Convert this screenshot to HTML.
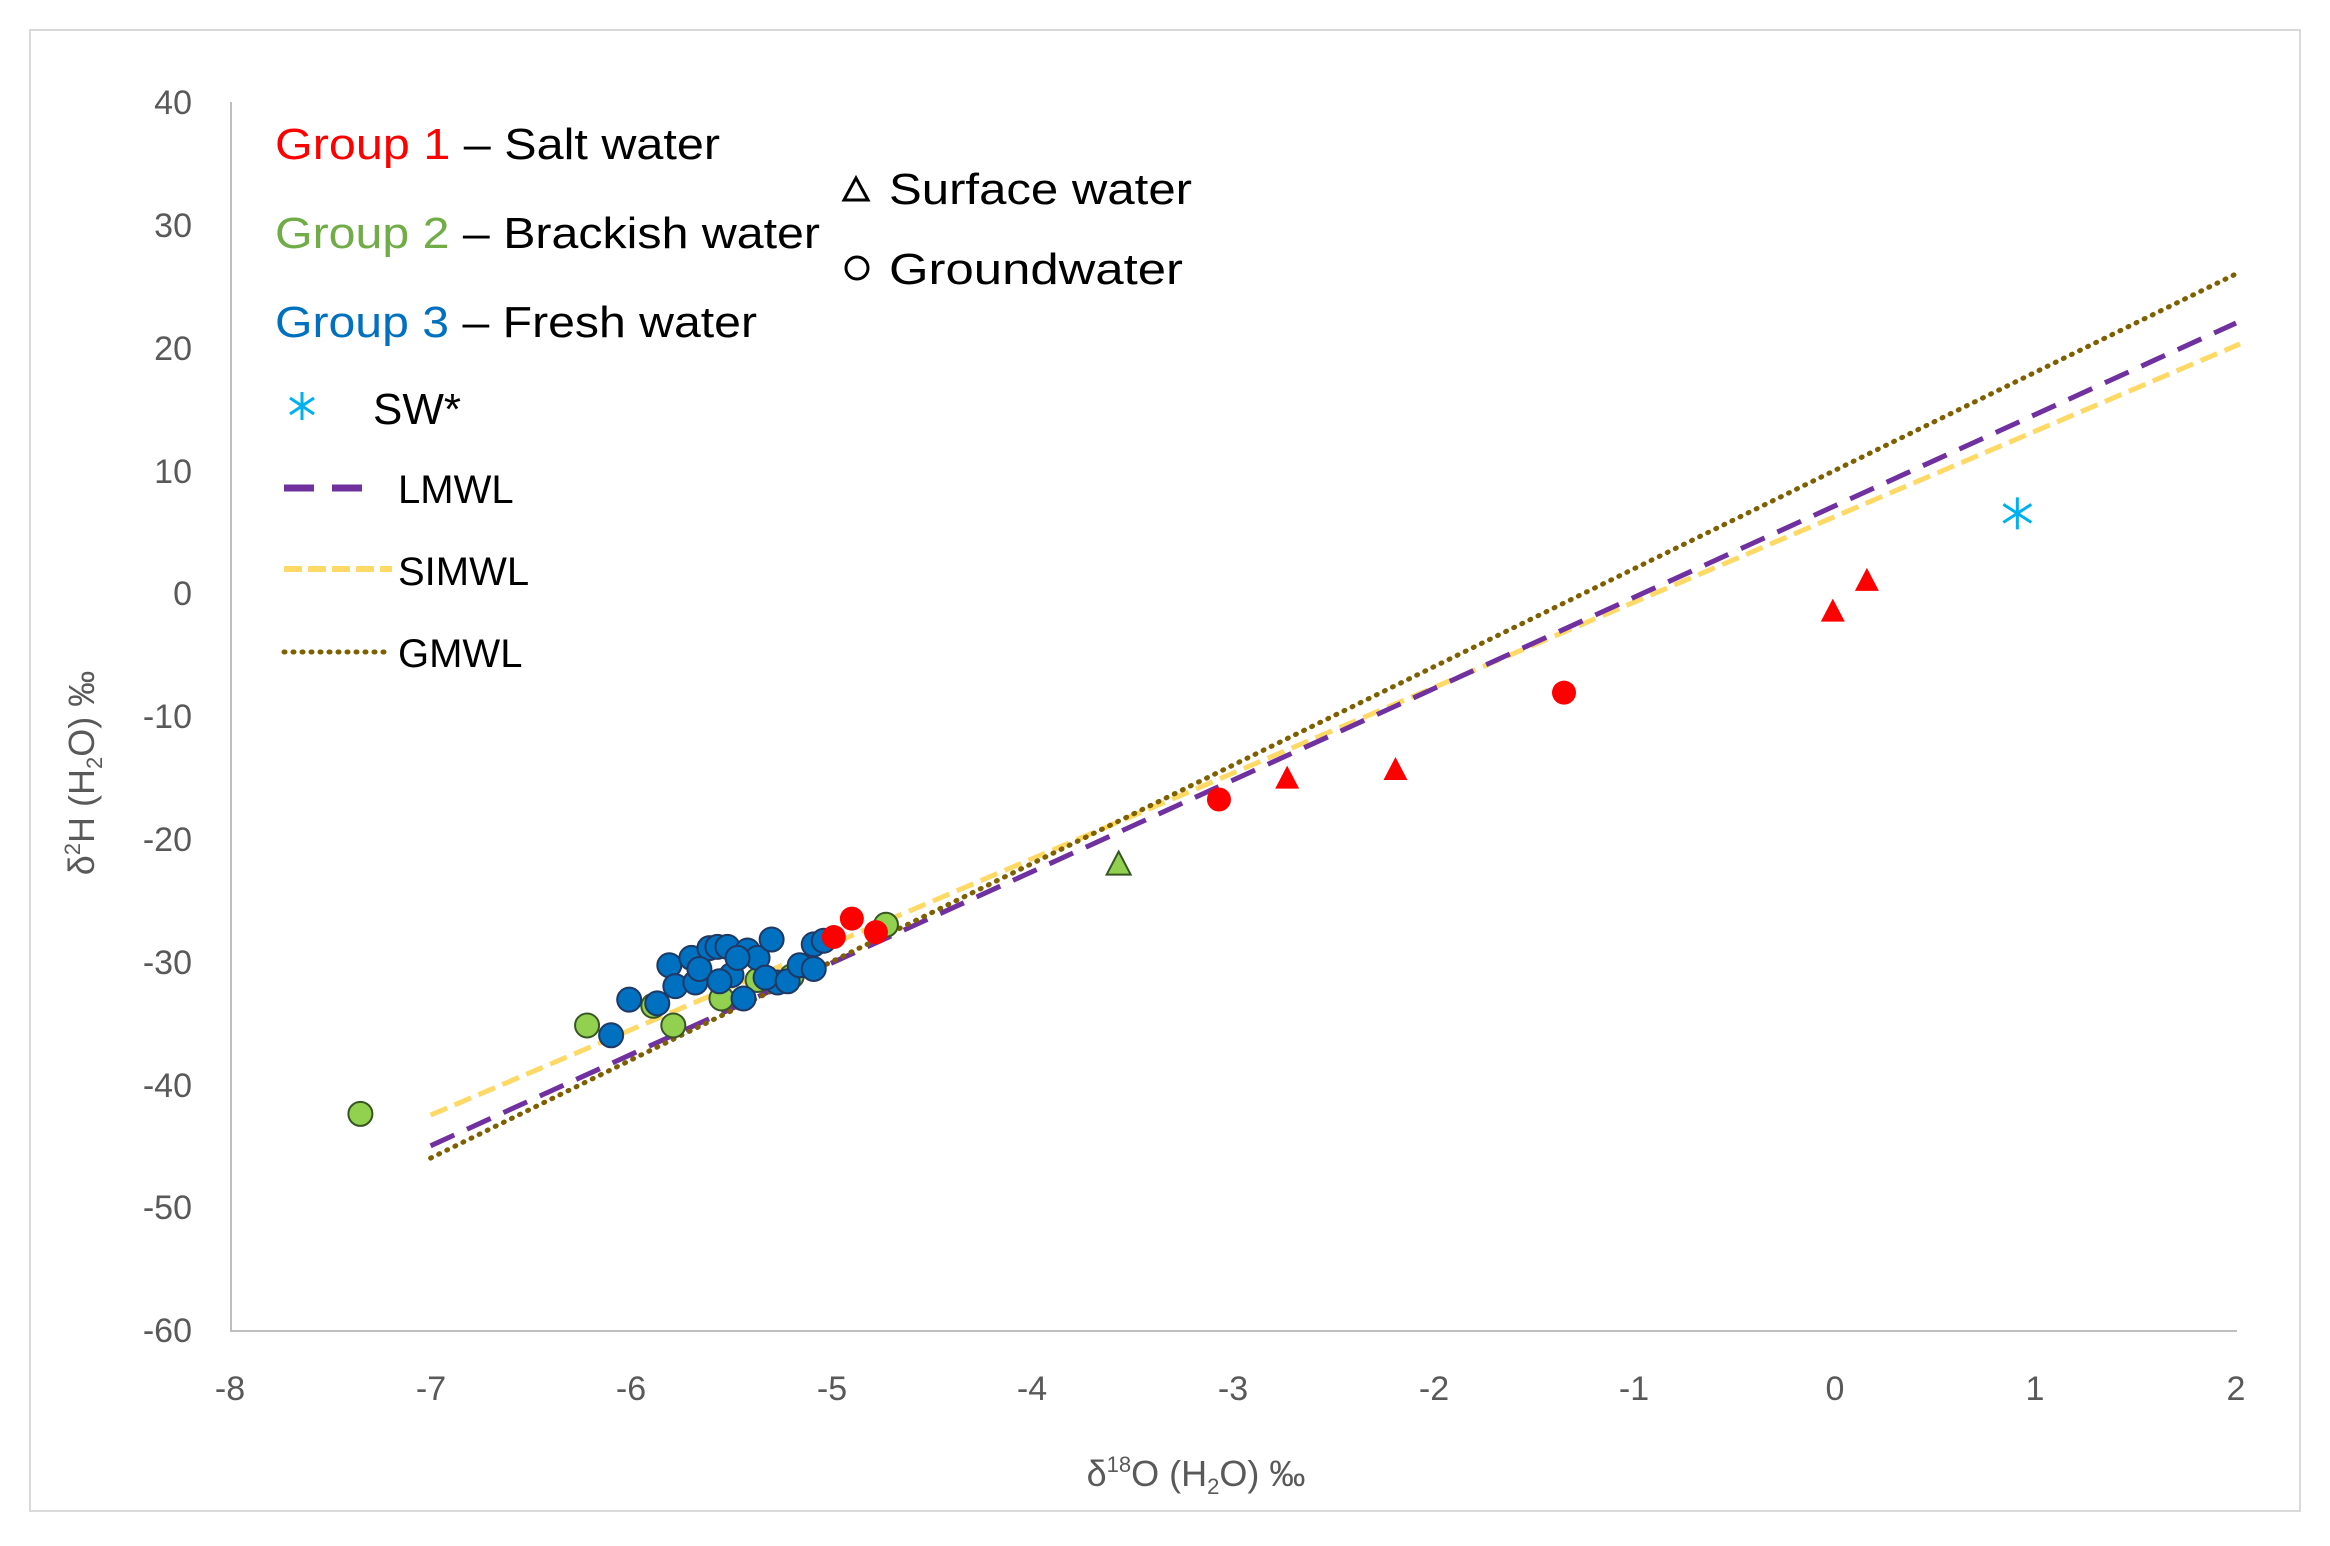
<!DOCTYPE html>
<html><head><meta charset="utf-8"><style>
html,body{margin:0;padding:0;background:#fff;}
svg{display:block;font-family:"Liberation Sans",sans-serif;}
</style></head><body>
<svg id="s" width="2330" height="1546" viewBox="0 0 2330 1546" xmlns="http://www.w3.org/2000/svg">
<rect x="30" y="30" width="2270" height="1481" fill="#fff" stroke="#d9d9d9" stroke-width="2"/>
<line x1="231" y1="102" x2="231" y2="1331" stroke="#bfbfbf" stroke-width="2"/>
<line x1="230" y1="1331" x2="2237" y2="1331" stroke="#bfbfbf" stroke-width="2"/>
<g font-size="34" fill="#595959" text-anchor="end">
<text x="192" y="114">40</text><text x="192" y="237">30</text><text x="192" y="360">20</text>
<text x="192" y="483">10</text><text x="192" y="605">0</text><text x="192" y="728">-10</text>
<text x="192" y="851">-20</text><text x="192" y="974">-30</text><text x="192" y="1097">-40</text>
<text x="192" y="1219">-50</text><text x="192" y="1342">-60</text>
</g>
<g font-size="34" fill="#595959" text-anchor="middle">
<text x="230" y="1400">-8</text><text x="431" y="1400">-7</text><text x="631" y="1400">-6</text>
<text x="832" y="1400">-5</text><text x="1032" y="1400">-4</text><text x="1233" y="1400">-3</text>
<text x="1434" y="1400">-2</text><text x="1634" y="1400">-1</text><text x="1835" y="1400">0</text>
<text x="2035" y="1400">1</text><text x="2236" y="1400">2</text>
</g>
<text x="1196" y="1486" font-size="36" fill="#595959" text-anchor="middle">δ<tspan font-size="22" dy="-14">18</tspan><tspan dy="14">O (H</tspan><tspan font-size="22" dy="8">2</tspan><tspan dy="-8">O) ‰</tspan></text>
<text transform="translate(94,773) rotate(-90)" font-size="36" fill="#595959" text-anchor="middle">δ<tspan font-size="22" dy="-14">2</tspan><tspan dy="14">H (H</tspan><tspan font-size="22" dy="8">2</tspan><tspan dy="-8">O) ‰</tspan></text>
<g id="lines"></g>
<g id="pts"></g>
<g font-size="44" fill="#000">
<text x="275" y="159" textLength="445" lengthAdjust="spacingAndGlyphs"><tspan fill="#ff0000">Group 1</tspan> – Salt water</text>
<text x="275" y="248" textLength="545" lengthAdjust="spacingAndGlyphs"><tspan fill="#70ad47">Group 2</tspan> – Brackish water</text>
<text x="275" y="337" textLength="482" lengthAdjust="spacingAndGlyphs"><tspan fill="#0070c0">Group 3</tspan> – Fresh water</text>
<text x="373" y="424">SW*</text>
<text x="889" y="204" textLength="303" lengthAdjust="spacingAndGlyphs">Surface water</text>
<text x="889" y="284" textLength="294" lengthAdjust="spacingAndGlyphs">Groundwater</text>
</g>
<polygon points="844,200 856,178 868,200" fill="none" stroke="#000" stroke-width="3"/>
<circle cx="857" cy="268" r="11" fill="none" stroke="#000" stroke-width="3"/>
<g stroke="#00b0f0" stroke-width="3"><line x1="302" y1="392" x2="302" y2="420"/><line x1="290" y1="398" x2="314" y2="414"/><line x1="290" y1="414" x2="314" y2="398"/></g>
<g font-size="40" fill="#000">
<text x="398" y="503">LMWL</text><text x="398" y="585">SIMWL</text><text x="398" y="667">GMWL</text>
</g>
<line x1="284" y1="488" x2="372" y2="488" stroke="#7030a0" stroke-width="7" stroke-dasharray="30,18"/>
<line x1="284" y1="569" x2="392" y2="569" stroke="#ffd966" stroke-width="6" stroke-dasharray="18,6"/>
<line x1="284" y1="652" x2="392" y2="652" stroke="#7f6000" stroke-width="5" stroke-dasharray="1,8" stroke-linecap="round"/>
</svg>
<script>
var NS="http://www.w3.org/2000/svg";
function X(v){return 230+(v+8)*200.6;}
function Y(v){return 102+(40-v)*12.28;}
function el(p,t,a){var e=document.createElementNS(NS,t);for(var k in a)e.setAttribute(k,a[k]);p.appendChild(e);return e;}
var L=document.getElementById("lines"),P=document.getElementById("pts");
el(L,"line",{x1:X(-7),y1:Y(-42.5),x2:X(2.02),y2:Y(20.3),stroke:"#ffd966","stroke-width":5,"stroke-dasharray":"18,8"});
el(L,"line",{x1:X(-7),y1:Y(-45),x2:X(2),y2:Y(22),stroke:"#7030a0","stroke-width":5,"stroke-dasharray":"26,14"});
el(L,"line",{x1:X(-7),y1:Y(-46),x2:X(2),y2:Y(26),stroke:"#7f6000","stroke-width":5,"stroke-dasharray":"1,8","stroke-linecap":"round"});
var green=[[-7.35,-42.4],[-6.22,-35.2],[-5.79,-35.2],[-4.73,-27],[-5.89,-33.6],[-5.55,-33],[-5.2,-31.2],[-5.67,-30],[-5.37,-31.5]];
var blue=[[-6.1,-36],[-6.01,-33.1],[-5.87,-33.4],[-5.81,-30.3],[-5.78,-32],[-5.70,-29.7],[-5.68,-31.7],[-5.61,-28.9],[-5.57,-28.8],[-5.52,-28.8],[-5.66,-30.6],[-5.5,-31.1],[-5.44,-33],[-5.42,-29.1],[-5.37,-29.7],[-5.3,-28.2],[-5.27,-31.7],[-5.33,-31.3],[-5.22,-31.6],[-5.16,-30.3],[-5.09,-28.6],[-5.09,-30.6],[-5.04,-28.3],[-5.56,-31.6],[-5.47,-29.7]];
var red=[[-3.07,-16.8],[-1.35,-8.1],[-4.90,-26.5],[-4.99,-28],[-4.78,-27.6]];
green.forEach(function(p){el(P,"circle",{cx:X(p[0]),cy:Y(p[1]),r:12,fill:"#92d050",stroke:"#375623","stroke-width":2});});
blue.forEach(function(p){el(P,"circle",{cx:X(p[0]),cy:Y(p[1]),r:12,fill:"#0070c0",stroke:"#1f3864","stroke-width":2});});
red.forEach(function(p){el(P,"circle",{cx:X(p[0]),cy:Y(p[1]),r:12,fill:"#ff0000"});});
function tri(x,y,f,s){var cx=X(x),cy=Y(y);var a={points:(cx-12)+","+(cy+10)+" "+cx+","+(cy-13)+" "+(cx+12)+","+(cy+10),fill:f};if(s){a.stroke=s;a["stroke-width"]=2;}el(P,"polygon",a);}
[[-2.73,-15.1],[-2.19,-14.4],[-0.01,-1.5],[0.16,1.0]].forEach(function(p){tri(p[0],p[1],"#ff0000");});
tri(-3.57,-22.1,"#92d050","#375623");
var sx=X(0.91),sy=Y(6.5),g=el(P,"g",{stroke:"#00b0f0","stroke-width":3});
el(g,"line",{x1:sx,y1:sy-16,x2:sx,y2:sy+16});
el(g,"line",{x1:sx-14,y1:sy-9,x2:sx+14,y2:sy+9});
el(g,"line",{x1:sx-14,y1:sy+9,x2:sx+14,y2:sy-9});
</script>
</body></html>
